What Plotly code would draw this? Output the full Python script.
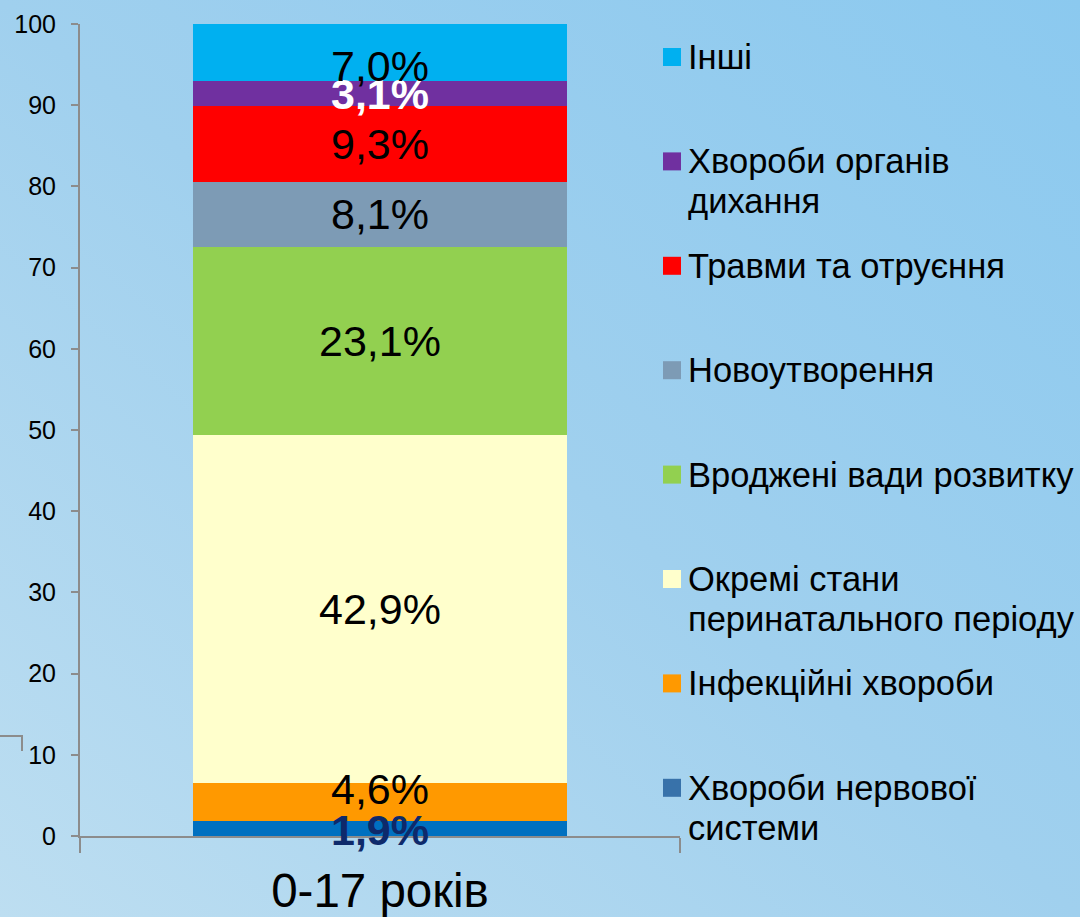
import base64
import plotly.graph_objects as go

# ---------------- data ----------------
category = "0-17 років"
series_names = [
    "Хвороби нервової системи",
    "Інфекційні хвороби",
    "Окремі стани перинатального періоду",
    "Вроджені вади розвитку",
    "Новоутворення",
    "Травми та отруєння",
    "Хвороби органів дихання",
    "Інші",
]
series_values = [1.9, 4.6, 42.9, 23.1, 8.1, 9.3, 3.1, 7.0]
legend_lines = [
    ["Хвороби нервової", "системи"],
    ["Інфекційні хвороби"],
    ["Окремі стани", "перинатального періоду"],
    ["Вроджені вади розвитку"],
    ["Новоутворення"],
    ["Травми та отруєння"],
    ["Хвороби органів", "дихання"],
    ["Інші"],
]
y_ticks = [0, 10, 20, 30, 40, 50, 60, 70, 80, 90, 100]

# ---------------- styles ----------------
bar_colors = ["#0070C0", "#FF9900", "#FFFFCC", "#92D050", "#7D9BB5", "#FF0000", "#7030A0", "#00B0F0"]
legend_colors = ["#3872AA", "#FF9900", "#FFFFCC", "#92D050", "#7D9BB5", "#FF0000", "#7030A0", "#00B0F0"]
label_colors = ["#0E2A6B", "black", "black", "black", "black", "black", "white", "black"]
label_bold = [True, False, False, False, False, False, True, False]
label_shift = [-2, 13, 0, 0, 0, 0, -1, -14]
FONT = "Liberation Sans, Arial, sans-serif"

W_PX, H_PX = 1080, 917
L, R, T, B = 80, 680, 24, 836
PW, PH = R - L, B - T


def px(x):
    return (x - L) / PW


def py(y):
    return (B - y) / PH


fig = go.Figure()
for name, val, col in zip(series_names, series_values, bar_colors):
    fig.add_trace(go.Bar(
        x=[category], y=[val], name=name, marker=dict(color=col, line=dict(width=0)),
        width=0.623, showlegend=False, hoverinfo="name+y",
    ))

annotations = []
# bar value labels
cum = 0
for val, col, bold, sh in zip(series_values, label_colors, label_bold, label_shift):
    mid = cum + val / 2
    cum += val
    txt = f"{val:.1f}".replace(".", ",") + "%"
    if bold:
        txt = f"<b>{txt}</b>"
    annotations.append(dict(
        x=category, y=mid, xref="x", yref="y", text=txt, showarrow=False,
        font=dict(family=FONT, size=43, color=col), yshift=sh,
    ))

# manual legend (top to bottom = reversed stack order)
shapes = []
leg_top, leg_pitch = 57, 104.4
for i, idx in enumerate(reversed(range(len(series_names)))):
    yc = leg_top + i * leg_pitch
    shapes.append(dict(
        type="rect", xref="paper", yref="paper",
        x0=px(663), x1=px(681), y0=py(yc + 9), y1=py(yc - 9),
        fillcolor=legend_colors[idx], line=dict(width=0),
    ))
    for j, line in enumerate(legend_lines[idx]):
        annotations.append(dict(
            x=px(686), y=py(yc + j * 40), xref="paper", yref="paper",
            xanchor="left", yanchor="middle", text=line, showarrow=False,
            font=dict(family=FONT, size=34.5, color="black"),
        ))

# decorative slide fragment at left
shapes.append(dict(
    type="path", xref="paper", yref="paper",
    path=f"M {px(0)} {py(736)} L {px(22)} {py(736)} L {px(22)} {py(751)}",
    line=dict(color="#8C8C8C", width=2),
))

# gradient background as SVG
svg = (
    '<svg xmlns="http://www.w3.org/2000/svg" width="1080" height="917" preserveAspectRatio="none">'
    '<defs><linearGradient id="g" x1="0" y1="1" x2="1" y2="0">'
    '<stop offset="0" stop-color="#BDDEF1"/>'
    '<stop offset="0.5" stop-color="#A0D0EE"/>'
    '<stop offset="1" stop-color="#8BC9EF"/>'
    '</linearGradient></defs>'
    '<rect width="1080" height="917" fill="url(#g)"/></svg>'
)
src = "data:image/svg+xml;base64," + base64.b64encode(svg.encode()).decode()

fig.update_layout(
    width=W_PX, height=H_PX, autosize=False,
    margin=dict(l=L, r=W_PX - R, t=T, b=H_PX - B, pad=0, autoexpand=False),
    barmode="stack",
    paper_bgcolor="#A5D3EF",
    plot_bgcolor="rgba(0,0,0,0)",
    showlegend=False,
    annotations=annotations,
    shapes=shapes,
    images=[dict(
        source=src, xref="paper", yref="paper",
        x=px(0), y=py(0), sizex=W_PX / PW, sizey=H_PX / PH,
        xanchor="left", yanchor="top", sizing="stretch", layer="below",
    )],
    font=dict(family=FONT, color="black"),
)
fig.update_xaxes(
    type="category", range=[-0.5, 0.5], showline=True, linecolor="#8C8C8C", linewidth=2,
    ticks="outside", tickson="boundaries", ticklen=15, tickcolor="#8C8C8C", tickwidth=2,
    tickfont=dict(family=FONT, size=47.5, color="black"), ticklabelstandoff=12,
    showgrid=False, zeroline=False, automargin=False,
)
fig.update_yaxes(
    range=[0, 100], tickvals=y_ticks, showline=True, linecolor="#8C8C8C", linewidth=2,
    ticks="outside", ticklen=7, tickcolor="#8C8C8C", tickwidth=2,
    tickfont=dict(family=FONT, size=25, color="black"), ticklabelstandoff=10,
    showgrid=False, zeroline=False, automargin=False,
)

fig.write_html(
    "out.html",
    config={"responsive": False, "displayModeBar": False},
    post_script="document.body.style.margin='0';document.body.style.overflow='hidden';",
)
